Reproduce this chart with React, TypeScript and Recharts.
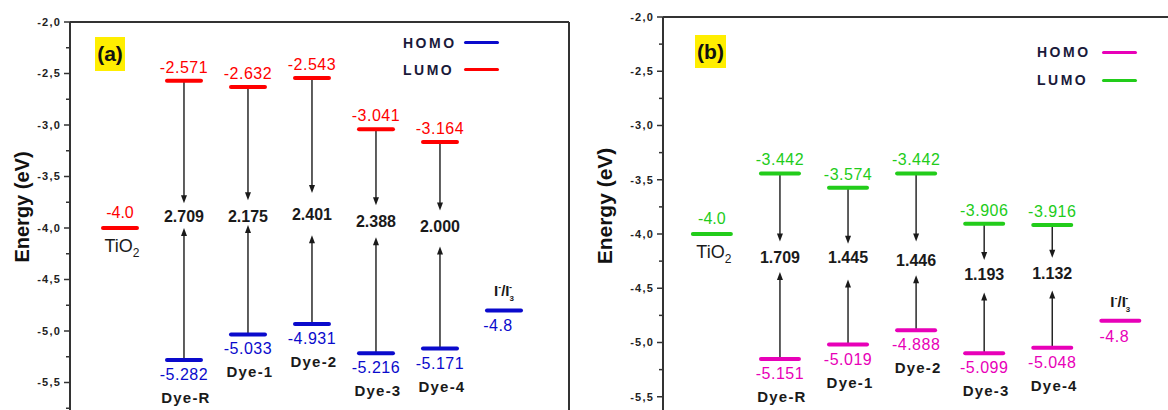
import React from "react";
import { ComposedChart, Scatter, XAxis, YAxis, ReferenceLine, Legend } from "recharts";

const FONT = '"Liberation Sans", Arial, sans-serif';

// shared categories
const dyeNames = ["Dye-R", "Dye-1", "Dye-2", "Dye-3", "Dye-4"];
const dyeSlots = [1, 2, 3, 4, 5];
const tio2Slot = 0;
const redoxSlot = 6;
const tio2Level = -4.0;
const redoxLevel = -4.8;
const yTicks = [
  -2, -2.25, -2.5, -2.75, -3, -3.25, -3.5, -3.75, -4, -4.25, -4.5, -4.75, -5, -5.25, -5.5, -5.75, -6,
];

// panel (a)
const lumoA = [-2.571, -2.632, -2.543, -3.041, -3.164];
const homoA = [-5.282, -5.033, -4.931, -5.216, -5.171];
const gapA = ["2.709", "2.175", "2.401", "2.388", "2.000"];
const gapPosA = [-3.89, -3.89, -3.87, -3.93, -3.98];
const downTipA = [-3.76, -3.73, -3.66, -3.78, -3.83];
const upTipA = [-4.0, -3.97, -4.07, -4.09, -4.18];

// panel (b)
const lumoB = [-3.442, -3.574, -3.442, -3.906, -3.916];
const homoB = [-5.151, -5.019, -4.888, -5.099, -5.048];
const gapB = ["1.709", "1.445", "1.446", "1.193", "1.132"];
const gapPosB = [-4.21, -4.21, -4.24, -4.37, -4.36];
const downTipB = [-4.07, -4.09, -4.07, -4.24, -4.22];
const upTipB = [-4.35, -4.42, -4.38, -4.54, -4.52];

const fmtTick = (v: number) => v.toFixed(1).replace(".", ",");

const YTick = (props: any) => {
  const { x, y, payload } = props;
  const v = payload.value;
  const major = Math.abs(v * 2 - Math.round(v * 2)) < 1e-6;
  return (
    <g>
      <line x1={x - (major ? 6 : 4)} x2={x} y1={y} y2={y} stroke="#333" strokeWidth={1.5} />
      {major && v > -5.9 && (
        <text
          x={x - 9}
          y={y}
          dy="0.35em"
          textAnchor="end"
          fontSize={11}
          fontWeight="bold"
          letterSpacing={1.2}
          fill="#222"
          fontFamily={FONT}
        >
          {fmtTick(v)}
        </text>
      )}
    </g>
  );
};

const Arrow = (props: any) => {
  const { x1, y1, x2, y2 } = props;
  const dir = y2 > y1 ? 1 : -1;
  return (
    <g>
      <line x1={x1} y1={y1} x2={x2} y2={y2 - dir * 6} stroke="#1a1a1a" strokeWidth={1.4} />
      <path d={`M${x2},${y2} L${x2 - 3},${y2 - dir * 8} L${x2 + 3},${y2 - dir * 8} Z`} fill="#1a1a1a" />
    </g>
  );
};

const levelShape = (kind: string, color: string, half: number) => (props: any) => {
  const { cx, cy, payload } = props;
  if (cx == null || cy == null) return <g />;
  const bar = (
    <line
      x1={cx - half}
      x2={cx + half}
      y1={cy}
      y2={cy}
      stroke={color}
      strokeWidth={4}
      strokeLinecap="round"
    />
  );
  const common = { fontFamily: FONT, textAnchor: "middle" as const };
  if (kind === "lumo") {
    return (
      <g>
        {bar}
        <text x={cx} y={cy - 8} fontSize={16} letterSpacing={0.5} fill={color} {...common}>
          {payload.text}
        </text>
      </g>
    );
  }
  if (kind === "homo") {
    return (
      <g>
        {bar}
        <text x={cx} y={cy + 20} fontSize={16} letterSpacing={0.5} fill={color} {...common}>
          {payload.text}
        </text>
        <text x={cx + 2} y={cy + 43} fontSize={15} fontWeight="bold" letterSpacing={1.2} fill="#1a1a1a" {...common}>
          {payload.name}
        </text>
      </g>
    );
  }
  if (kind === "tio2") {
    return (
      <g>
        {bar}
        <text x={cx} y={cy - 10} fontSize={16} fill={color} {...common}>
          {payload.text}
        </text>
        <text x={cx + 2} y={cy + 24} fontSize={18} fill="#1a1a1a" {...common}>
          TiO
          <tspan fontSize={12} dy={5}>
            2
          </tspan>
        </text>
      </g>
    );
  }
  // redox couple
  return (
    <g>
      {bar}
      <text x={cx} y={cy - 14} fontSize={15} fontWeight="bold" fill="#1a1a1a" {...common}>
        I
        <tspan fontSize={9} dy={-6}>
          -
        </tspan>
        <tspan fontSize={15} dy={6}>
          /I
        </tspan>
        <tspan fontSize={8} dy={5}>
          3
        </tspan>
        <tspan fontSize={9} dx={-5} dy={-11}>
          -
        </tspan>
      </text>
      <text x={cx - 6} y={cy + 21} fontSize={16} letterSpacing={0.5} fill={color} {...common}>
        {payload.text}
      </text>
    </g>
  );
};

const gapShape = (props: any) => {
  const { cx, cy, payload } = props;
  if (cx == null || cy == null) return <g />;
  return (
    <text x={cx} y={cy} dy="0.36em" textAnchor="middle" fontSize={16} fontWeight="bold" fill="#1a1a1a" fontFamily={FONT}>
      {payload.text}
    </text>
  );
};

type PanelCfg = {
  tag: string;
  left: number;
  width: number;
  height: number;
  top: number;
  yAxisWidth: number;
  rightWidth: number;
  xDomain: [number, number];
  half: number;
  lumoColor: string;
  homoColor: string;
  lumo: number[];
  homo: number[];
  gap: string[];
  gapPos: number[];
  downTip: number[];
  upTip: number[];
  tagBox: { left: number; top: number; width: number; height: number };
  legend: { left: number; top: number; col: number; row: number };
  title: { x: number; y: number; size: number };
};

const panelA: PanelCfg = {
  tag: "(a)",
  left: 0,
  width: 570,
  height: 434,
  top: 22,
  yAxisWidth: 70,
  rightWidth: 1,
  xDomain: [-0.781, 7.016],
  half: 17,
  lumoColor: "#ff0000",
  homoColor: "#0a0acc",
  lumo: lumoA,
  homo: homoA,
  gap: gapA,
  gapPos: gapPosA,
  downTip: downTipA,
  upTip: upTipA,
  tagBox: { left: 95, top: 37, width: 30, height: 34 },
  legend: { left: 403, top: 29, col: 61, row: 27 },
  title: { x: 22, y: 207, size: 20 },
};

const panelB: PanelCfg = {
  tag: "(b)",
  left: 580,
  width: 600,
  height: 451,
  top: 17,
  yAxisWidth: 83,
  rightWidth: 1,
  xDomain: [-0.718, 6.862],
  half: 19,
  lumoColor: "#22cc1a",
  homoColor: "#e800b8",
  lumo: lumoB,
  homo: homoB,
  gap: gapB,
  gapPos: gapPosB,
  downTip: downTipB,
  upTip: upTipB,
  tagBox: { left: 115, top: 35, width: 31, height: 33 },
  legend: { left: 457, top: 38, col: 65, row: 28 },
  title: { x: 24, y: 206, size: 21 },
};

function EnergyPanel({ p }: { p: PanelCfg }) {
  const lumoData = p.lumo.map((y, i) => ({ x: dyeSlots[i], y, text: y.toFixed(3) }));
  const homoData = p.homo.map((y, i) => ({ x: dyeSlots[i], y, text: y.toFixed(3), name: dyeNames[i] }));
  const gapData = p.gap.map((t, i) => ({ x: dyeSlots[i], y: p.gapPos[i], text: t }));
  const tio2Data = [{ x: tio2Slot, y: tio2Level, text: tio2Level.toFixed(1) }];
  const redoxData = [{ x: redoxSlot, y: redoxLevel, text: redoxLevel.toFixed(1) }];
  const frame = { stroke: "#333", strokeWidth: 2 };

  const legendContent = () => (
    <div style={{ fontFamily: FONT }}>
      {[
        ["HOMO", p.homoColor],
        ["LUMO", p.lumoColor],
      ].map(([n, c]) => (
        <div key={n} style={{ display: "flex", alignItems: "center", height: p.legend.row }}>
          <span
            style={{
              width: p.legend.col,
              fontSize: 14,
              fontWeight: "bold",
              letterSpacing: 2.5,
              color: "#1a1a3a",
            }}
          >
            {n}
          </span>
          <span style={{ display: "inline-block", width: 35, height: 3, background: c, borderRadius: 2 }} />
        </div>
      ))}
    </div>
  );

  return (
    <div style={{ position: "absolute", left: p.left, top: 0, width: p.width, height: p.height }}>
      <ComposedChart width={p.width} height={p.height} margin={{ top: p.top, right: 0, bottom: 0, left: 0 }}>
        <XAxis type="number" dataKey="x" domain={p.xDomain} allowDataOverflow hide />
        <YAxis
          type="number"
          dataKey="y"
          domain={[-6, -2]}
          allowDataOverflow
          ticks={yTicks}
          interval={0}
          width={p.yAxisWidth}
          tickSize={0}
          tickMargin={0}
          tickLine={false}
          tick={(tp: any) => <YTick {...tp} />}
          axisLine={frame}
        />
        <YAxis
          yAxisId="frame"
          type="number"
          orientation="right"
          domain={[-6, -2]}
          width={p.rightWidth}
          tick={false}
          tickLine={false}
          axisLine={frame}
        />
        <ReferenceLine y={-2} stroke="#333" strokeWidth={2} ifOverflow="extendDomain" />
        <Legend
          layout="horizontal"
          verticalAlign="middle"
          align="center"
          content={legendContent}
          wrapperStyle={{ left: p.legend.left, top: p.legend.top, width: "auto", height: "auto" }}
        />
        {dyeSlots.map((s, i) => (
          <ReferenceLine
            key={`d${i}`}
            segment={[
              { x: s, y: p.lumo[i] },
              { x: s, y: p.downTip[i] },
            ]}
            shape={Arrow}
          />
        ))}
        {dyeSlots.map((s, i) => (
          <ReferenceLine
            key={`u${i}`}
            segment={[
              { x: s, y: p.homo[i] },
              { x: s, y: p.upTip[i] },
            ]}
            shape={Arrow}
          />
        ))}
        <Scatter name="LUMO" data={lumoData} shape={levelShape("lumo", p.lumoColor, p.half)} isAnimationActive={false} />
        <Scatter name="HOMO" data={homoData} shape={levelShape("homo", p.homoColor, p.half)} isAnimationActive={false} />
        <Scatter name="TiO2" data={tio2Data} shape={levelShape("tio2", p.lumoColor, p.half)} isAnimationActive={false} />
        <Scatter name="redox" data={redoxData} shape={levelShape("redox", p.homoColor, p.half)} isAnimationActive={false} />
        <Scatter name="gap" data={gapData} shape={gapShape} isAnimationActive={false} />
      </ComposedChart>
      <div
        style={{
          position: "absolute",
          left: p.tagBox.left,
          top: p.tagBox.top,
          width: p.tagBox.width,
          height: p.tagBox.height,
          background: "#ffee00",
          fontFamily: FONT,
          fontWeight: "bold",
          fontSize: 21,
          lineHeight: `${p.tagBox.height}px`,
          textAlign: "center",
          color: "#111",
        }}
      >
        {p.tag}
      </div>
      <div
        style={{
          position: "absolute",
          left: p.title.x,
          top: p.title.y,
          transform: "translate(-50%, -50%) rotate(-90deg)",
          whiteSpace: "nowrap",
          fontFamily: FONT,
          fontWeight: "bold",
          fontSize: p.title.size,
          lineHeight: 1,
          color: "#111",
        }}
      >
        Energy (eV)
      </div>
    </div>
  );
}

export default function App() {
  return (
    <div
      style={{
        position: "fixed",
        left: 0,
        top: 0,
        width: 1168,
        height: 410,
        overflow: "hidden",
        background: "#fff",
      }}
    >
      <EnergyPanel p={panelA} />
      <EnergyPanel p={panelB} />
    </div>
  );
}
